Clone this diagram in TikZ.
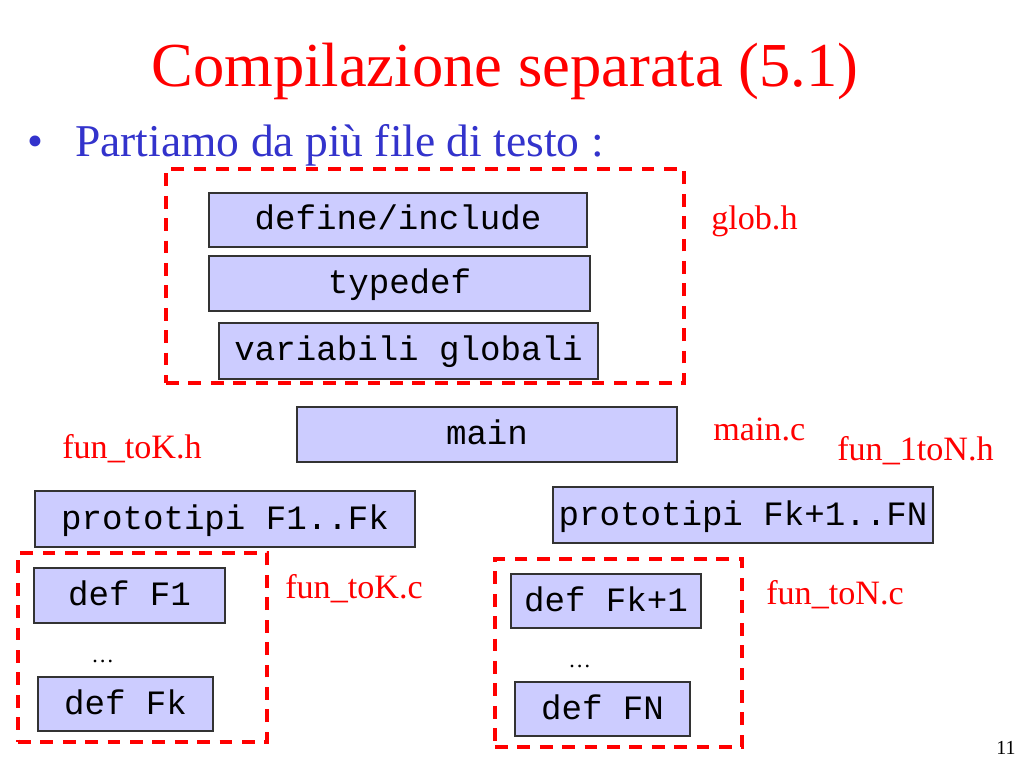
\documentclass[tikz,border=0pt]{standalone}
\usepackage{fontspec}
\setmainfont{Liberation Serif}
\setmonofont{Liberation Mono}
\usetikzlibrary{fit}
\definecolor{boxfill}{RGB}{204,204,255}
\definecolor{boxline}{RGB}{51,51,51}
\definecolor{titlered}{RGB}{255,0,0}
\definecolor{bulletblue}{RGB}{51,51,204}
\def\pxu{0.703125pt}
\tikzset{
  cbox/.style={draw=boxline, line width=0.75pt, fill=boxfill, inner sep=0pt,
    font=\ttfamily\fontsize{24}{28}\selectfont, text=black,
    text height=14.06pt, text depth=0pt},
  filebox/.style={draw=titlered, line width=2.25pt, dash pattern=on 9pt off 6.75pt,
    inner sep=0pt},
  lbl/.style={anchor=base west, inner sep=0pt, text=titlered,
    font=\fontsize{24}{28}\selectfont},
  dotsnode/.style={anchor=base west, inner sep=0pt, text=black,
    font=\fontsize{16}{18}\selectfont}
}
\begin{document}
\begin{tikzpicture}[x=0.703125pt, y=-0.703125pt]
\useasboundingbox (0,0) rectangle (1024,768);
\fill[white] (0,0) rectangle (1024,768);

% title and bullet
\node[anchor=base west, inner sep=0pt, text=titlered, font=\fontsize{44}{50}\selectfont] (title) at (151,87) {Compilazione separata (5.1)};
\node[anchor=base west, inner sep=0pt, text=bulletblue, font=\fontsize{32}{36}\selectfont] (bullet) at (27,157) {•};
\node[anchor=base west, inner sep=0pt, text=bulletblue, font=\fontsize{32}{36}\selectfont] (intro) at (75,157) {Partiamo da più file di testo :};

% glob.h
\node[filebox, fit={(166,169) (684,383)}] (globfile) {};
\node[cbox, minimum width=378*\pxu, minimum height=54*\pxu] (define) at (398,220) {define/include};
\node[cbox, minimum width=381*\pxu, minimum height=55*\pxu] (typedef) at (399.5,283.5) {typedef};
\node[cbox, minimum width=379*\pxu, minimum height=56*\pxu] (globals) at (408.5,351) {variabili globali};
\node[lbl] (globh) at (711,230) {glob.h};

% main.c
\node[cbox, minimum width=380*\pxu, minimum height=55*\pxu] (main) at (487,434.5) {main};
\node[lbl] (mainc) at (713,440) {main.c};

% headers
\node[lbl] (funtokh) at (62,458) {fun\_toK.h};
\node[lbl] (fun1tonh) at (837,460) {fun\_1toN.h};
\node[cbox, minimum width=380*\pxu, minimum height=56*\pxu] (protok) at (225,519) {prototipi F1..Fk};
\node[cbox, minimum width=380*\pxu, minimum height=56*\pxu] (proton) at (743,515) {prototipi Fk+1..FN};

% fun_toK.c
\node[filebox, fit={(18,553) (267,742)}] (tokfile) {};
\node[cbox, minimum width=191*\pxu, minimum height=55*\pxu] (deff1) at (129.5,595.5) {def F1};
\node[dotsnode] (dotsk) at (91,662) {…};
\node[cbox, minimum width=175*\pxu, minimum height=54*\pxu] (deffk) at (125.5,704) {def Fk};
\node[lbl] (funtokc) at (285,598) {fun\_toK.c};

% fun_toN.c
\node[filebox, fit={(495,559) (742,747)}] (tonfile) {};
\node[cbox, minimum width=190*\pxu, minimum height=54*\pxu] (deffk1) at (606,601) {def Fk+1};
\node[dotsnode] (dotsn) at (568,667) {…};
\node[cbox, minimum width=175*\pxu, minimum height=54*\pxu] (deffn) at (602.5,709) {def FN};
\node[lbl] (funtonc) at (766,604) {fun\_toN.c};

% page number
\node[anchor=base west, inner sep=0pt, text=black, font=\fontsize{14}{16}\selectfont] (pagenum) at (996,754) {11};
\end{tikzpicture}
\end{document}
